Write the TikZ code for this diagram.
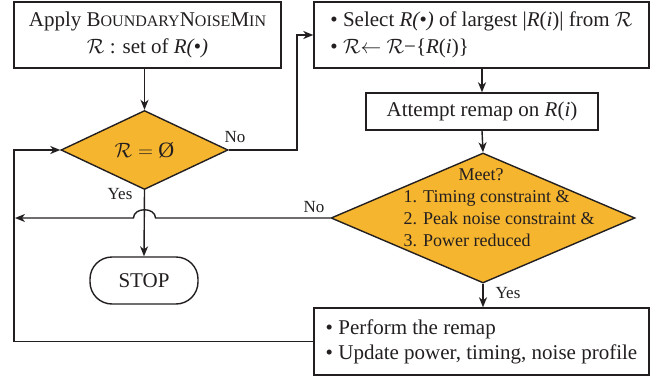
\documentclass[tikz,border=0pt]{standalone}
\usepackage{fontspec}
\setmainfont{Liberation Serif}
\usetikzlibrary{arrows.meta,shapes.geometric,calc}
\definecolor{fillor}{HTML}{F6B52E}
\definecolor{ink}{HTML}{231F20}
\newcommand{\smc}[1]{{\fontsize{16pt}{16pt}\selectfont #1}}
\begin{document}
\begin{tikzpicture}[x=1pt,y=-1pt,color=ink,line width=1.4pt,
  box/.style={draw,rectangle,inner sep=0pt,font=\fontsize{21pt}{27pt}\selectfont},
  dia/.style={draw,diamond,fill=fillor,inner sep=0pt},
  arr/.style={-{Stealth[length=10pt,width=8pt,inset=3pt]}},
  lbl/.style={font=\fontsize{17pt}{20pt}\selectfont,inner sep=0pt},
  dtxt/.style={font=\fontsize{18pt}{21.7pt}\selectfont,inner sep=0pt}]
\useasboundingbox (0,0) rectangle (667,380);

\node[box,minimum width=267,minimum height=66,align=center] (b1) at (147.5,35)
  {Apply B\smc{OUNDARY}N\smc{OISE}M\smc{IN}\\ $\mathcal{R}$ : set of \textit{R(•)}};
\node[dia,minimum width=167,minimum height=79] (d1) at (144.5,150) {};
\node[font=\fontsize{22pt}{26pt}\selectfont,inner sep=0pt] (d1t) at (144.5,150) {$\mathcal{R} =$ Ø};

\node[box,minimum width=335,minimum height=66,align=left] (b2) at (481.5,35)
  {• Select \textit{R(•)} of largest |\textit{R}(\textit{i})| from $\mathcal{R}$\\
   • $\mathcal{R}$$\leftarrow$ $\mathcal{R}$−\{\textit{R}(\textit{i})\}};
\node[box,minimum width=232,minimum height=37] (b3) at (482,111.5)
  {Attempt remap on \textit{R}(\textit{i})};
\node[dia,minimum width=304,minimum height=130] (d2) at (483,218) {};
\node[dtxt] (meet) at (481,175) {Meet?};
\node[dtxt,anchor=west,align=left] (d2t) at (403,218.5)
  {1. Timing constraint \&\\2. Peak noise constraint \&\\3. Power reduced};

\node[draw,rectangle,rounded corners=22pt,minimum width=108,minimum height=47,inner sep=0pt,
  font=\fontsize{21pt}{25pt}\selectfont] (stop) at (144,280.5) {STOP};
\node[box,minimum width=335,minimum height=67,align=left,font=\fontsize{21pt}{25pt}\selectfont] (b4) at (481.5,341.5)
  {• Perform the remap\\• Update power, timing, noise profile};

\node[lbl] (no1) at (235,137) {No};
\node[lbl] (yes1) at (120,194) {Yes};
\node[lbl] (no2) at (314,207) {No};
\node[lbl] (yes2) at (508,293) {Yes};

\coordinate (c1) at (297,150);
\coordinate (c2) at (15,218);
\coordinate (c3) at (14,341.5);
\coordinate (c4) at (14,150);
\coordinate (j) at (d1.south |- d2.west);

\draw[arr] (b1.south -| d1.north) -- (d1.north);
\draw[arr] (d1.east) -- (c1) |- (b2.west);
\draw[arr] (b2.south -| b3.north) -- (b3.north);
\draw[arr] (b3.south) -- (d2.north);
\draw[arr] (d2.south) -- (b4.north -| d2.south);
\draw[arr] (d1.south) -- (stop.north);
\draw[arr] (d2.west) -- ($(j)+(11,0)$) .. controls ($(j)+(11,-11)$) and ($(j)+(-11,-11)$) .. ($(j)+(-11,0)$) -- (c2);
\draw[arr] (b4.west) -- (c3) -- (c4) -- (d1.west);
\end{tikzpicture}
\end{document}
